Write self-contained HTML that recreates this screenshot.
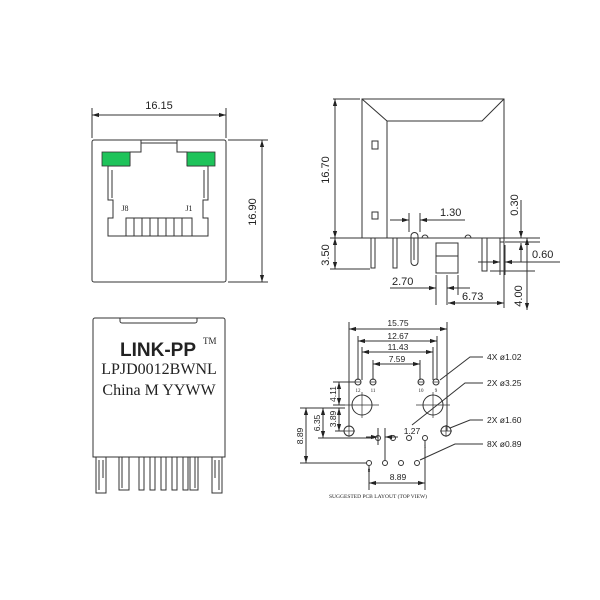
<!DOCTYPE html>
<html><head><meta charset="utf-8"><style>
html,body{margin:0;padding:0;background:#fff;}
svg{display:block;}
text{font-family:"Liberation Sans",sans-serif;fill:#222;}
.s{font-family:"Liberation Serif",serif;}
</style></head><body>
<svg width="600" height="600" viewBox="0 0 600 600" xmlns="http://www.w3.org/2000/svg">
<defs>
<marker id="a" viewBox="0 0 10 10" refX="10" refY="5" markerWidth="7" markerHeight="7" orient="auto-start-reverse"><path d="M0,2 L10,5 L0,8 z" fill="#222"/></marker>
</defs>
<g stroke="#333" stroke-width="1" fill="none">
<!-- top-left front view -->
<rect x="92" y="140" width="134" height="142" rx="2"/>
<line x1="92" y1="108" x2="92" y2="138"/><line x1="226" y1="108" x2="226" y2="138"/>
<line x1="92" y1="115" x2="226" y2="115" marker-start="url(#a)" marker-end="url(#a)"/>
<line x1="228" y1="140" x2="268" y2="140"/><line x1="228" y1="282" x2="268" y2="282"/>
<line x1="262" y1="140" x2="262" y2="282" marker-start="url(#a)" marker-end="url(#a)"/>
<path d="M141,140 V152 H130 V166 M177,140 V152 H187 V166"/>
<line x1="141" y1="143" x2="177" y2="143"/>
<path d="M130,166 H108 V200 H113 V218 H108 V236 H208 V218 H203 V200 H208 V166 H187"/>
<path d="M112,170 V198 M204,170 V198"/>
<path d="M126,236 V218 H192 V236"/>
<path d="M134,218 V236 M142,218 V236 M150,218 V236 M158,218 V236 M166,218 V236 M174,218 V236 M182,218 V236"/>
<!-- top-right side view -->
<path d="M362,238 V99 H504 V238"/>
<path d="M362,99 L387,121 H482 L504,99 M387,121 V238"/>
<rect x="372" y="141" width="6" height="8"/><rect x="372" y="212" width="6" height="7"/>
<line x1="330" y1="238" x2="540" y2="238"/>
<line x1="333" y1="99" x2="360" y2="99"/>
<line x1="335" y1="99" x2="335" y2="238" marker-start="url(#a)" marker-end="url(#a)"/>
<line x1="330" y1="269" x2="370" y2="269"/>
<line x1="335" y1="238" x2="335" y2="269" marker-start="url(#a)" marker-end="url(#a)"/>
<rect x="371" y="238" width="4" height="30"/><rect x="393" y="238" width="4" height="30"/>
<path d="M411,238 V236 a3.5,3.5 0 0 1 7,0 V262 a3.5,3.5 0 0 1 -7,0 Z"/>
<path d="M414,238 V260"/>
<rect x="436" y="243" width="22" height="30"/><line x1="436" y1="256" x2="458" y2="256"/>
<path d="M422,238 a3,3 0 0 1 6,0 M465,238 a3,3 0 0 1 6,0"/>
<rect x="482" y="238" width="5" height="33"/><rect x="500" y="238" width="4" height="4"/>
<line x1="409" y1="213" x2="409" y2="232"/><line x1="420" y1="213" x2="420" y2="232"/>
<line x1="390" y1="220" x2="409" y2="220" marker-end="url(#a)"/>
<line x1="465" y1="220" x2="420" y2="220" marker-end="url(#a)"/>
<line x1="521" y1="200" x2="521" y2="238" marker-end="url(#a)"/>
<line x1="521" y1="262" x2="521" y2="243" marker-end="url(#a)"/>
<line x1="505" y1="242" x2="540" y2="242"/>
<line x1="478" y1="262" x2="500" y2="262" marker-end="url(#a)"/>
<line x1="560" y1="262" x2="505" y2="262" marker-end="url(#a)"/>
<line x1="500" y1="240" x2="500" y2="275"/><line x1="505" y1="245" x2="505" y2="275"/>
<line x1="527" y1="238" x2="527" y2="310" marker-start="url(#a)" marker-end="url(#a)"/>
<line x1="490" y1="271" x2="535" y2="271"/>
<line x1="436" y1="275" x2="436" y2="305"/><line x1="447" y1="275" x2="447" y2="305"/><line x1="458" y1="275" x2="458" y2="295"/>
<line x1="390" y1="288" x2="436" y2="288" marker-end="url(#a)"/>
<line x1="470" y1="288" x2="447" y2="288" marker-end="url(#a)"/>
<line x1="504" y1="240" x2="504" y2="308"/>
<line x1="448" y1="303" x2="504" y2="303" marker-start="url(#a)" marker-end="url(#a)"/>
<!-- bottom-left top view -->
<path d="M93,457 V320 a2,2 0 0 1 2,-2 H223 a2,2 0 0 1 2,2 V457 Z"/>
<path d="M120,318 V321 a2,2 0 0 0 2,2 H195 a2,2 0 0 0 2,-2 V318"/>
<path d="M96,457 V493 H106 V457 M99,460 V490 M103,460 V478"/>
<path d="M212,457 V493 H222 V457 M219,460 V490 M215,460 V478"/>
<path d="M119,457 V490 H129 V457 M122,457 V488 M139,457 V490 H144 V457 M150,457 V490 H155 V457 M161,457 V490 H166 V457 M172,457 V490 H177 V457 M183,457 V490 H188 V457 M190,457 V490 H198 V457 M195,457 V488"/>
<!-- PCB layout -->
<line x1="349" y1="322" x2="349" y2="427"/><line x1="447" y1="322" x2="447" y2="431"/>
<line x1="349" y1="329" x2="447" y2="329" marker-start="url(#a)" marker-end="url(#a)"/>
<line x1="358" y1="336" x2="358" y2="380"/><line x1="437" y1="336" x2="437" y2="380"/>
<line x1="358" y1="341" x2="437" y2="341" marker-start="url(#a)" marker-end="url(#a)"/>
<line x1="362" y1="347" x2="362" y2="380"/><line x1="433" y1="347" x2="433" y2="380"/>
<line x1="362" y1="352" x2="433" y2="352" marker-start="url(#a)" marker-end="url(#a)"/>
<line x1="373" y1="360" x2="373" y2="380"/><line x1="420" y1="360" x2="420" y2="380"/>
<line x1="373" y1="364" x2="420" y2="364" marker-start="url(#a)" marker-end="url(#a)"/>
<g>
<circle cx="358" cy="382" r="3"/><circle cx="373" cy="382" r="3"/><circle cx="421" cy="382" r="3"/><circle cx="436" cy="382" r="3"/>
<circle cx="362" cy="405" r="10"/><circle cx="433" cy="405" r="10"/>
<circle cx="349" cy="431" r="5"/><circle cx="446" cy="431" r="5"/>
<circle cx="378" cy="438" r="2.5"/><circle cx="393" cy="438" r="2.5"/><circle cx="409" cy="438" r="2.5"/><circle cx="425" cy="438" r="2.5"/>
<circle cx="369" cy="463" r="2.5"/><circle cx="385" cy="463" r="2.5"/><circle cx="401" cy="463" r="2.5"/><circle cx="417" cy="463" r="2.5"/>
</g>
<path d="M355,382 H361 M370,382 H376 M418,382 H424 M433,382 H439 M345,405 H379 M416,405 H450 M362,392 V418 M433,392 V418 M343,431 H355 M349,425 V437 M440,431 H452 M446,425 V437" stroke-width="0.7"/>
<line x1="333" y1="382" x2="355" y2="382"/><line x1="333" y1="405" x2="345" y2="405"/>
<line x1="339" y1="382" x2="339" y2="405" marker-start="url(#a)" marker-end="url(#a)"/>
<line x1="339" y1="408" x2="339" y2="431" marker-start="url(#a)" marker-end="url(#a)"/>
<line x1="335" y1="431" x2="344" y2="431"/>
<line x1="300" y1="408" x2="345" y2="408"/>
<line x1="323" y1="408" x2="323" y2="438" marker-start="url(#a)" marker-end="url(#a)"/>
<line x1="318" y1="438" x2="374" y2="438"/>
<line x1="306" y1="408" x2="306" y2="463" marker-start="url(#a)" marker-end="url(#a)"/>
<line x1="300" y1="463" x2="366" y2="463"/>
<line x1="378" y1="428" x2="378" y2="445"/><line x1="385" y1="428" x2="385" y2="460"/>
<line x1="366" y1="437" x2="378" y2="437" marker-end="url(#a)"/>
<line x1="398" y1="437" x2="385" y2="437" marker-end="url(#a)"/>
<line x1="369" y1="466" x2="369" y2="490"/><line x1="425" y1="441" x2="425" y2="490"/>
<line x1="369" y1="483" x2="425" y2="483" marker-start="url(#a)" marker-end="url(#a)"/>
<!-- leaders -->
<path d="M483,357 H470 L440,380"/>
<path d="M483,383 H465 L412,425"/>
<path d="M483,420 H470 L450,428"/>
<path d="M483,444 H455 L420,460"/>
</g>
<rect x="102" y="152" width="28" height="14" fill="#1ec35a" stroke="#333" stroke-width="0.8"/>
<rect x="187" y="152" width="28" height="14" fill="#1ec35a" stroke="#333" stroke-width="0.8"/>
<g font-size="11">
<text x="159" y="109" text-anchor="middle">16.15</text>
<text transform="translate(256,212) rotate(-90)" text-anchor="middle">16.90</text>
<text transform="translate(329,170) rotate(-90)" text-anchor="middle">16.70</text>
<text transform="translate(329,255) rotate(-90)" text-anchor="middle">3.50</text>
<text x="440" y="216">1.30</text>
<text transform="translate(518,205) rotate(-90)" text-anchor="middle">0.30</text>
<text x="532" y="258">0.60</text>
<text transform="translate(522,296) rotate(-90)" text-anchor="middle">4.00</text>
<text x="392" y="285">2.70</text>
<text x="462" y="300">6.73</text>
</g>
<text class="s" x="125" y="211" font-size="8" text-anchor="middle">J8</text>
<text class="s" x="189" y="211" font-size="8" text-anchor="middle">J1</text>
<text x="158" y="356" font-size="19" font-weight="bold" text-anchor="middle">LINK-PP</text>
<text class="s" x="203" y="344" font-size="9">TM</text>
<text class="s" x="159" y="374" font-size="16" text-anchor="middle">LPJD0012BWNL</text>
<text class="s" x="159" y="395" font-size="16" text-anchor="middle">China M YYWW</text>
<g font-size="8.5">
<text x="398" y="326" text-anchor="middle">15.75</text>
<text x="398" y="339" text-anchor="middle">12.67</text>
<text x="398" y="350" text-anchor="middle">11.43</text>
<text x="397" y="362" text-anchor="middle">7.59</text>
<text x="412" y="434" text-anchor="middle">1.27</text>
<text x="398" y="480" text-anchor="middle">8.89</text>
<text transform="translate(336,394) rotate(-90)" text-anchor="middle">4.11</text>
<text transform="translate(336,419) rotate(-90)" text-anchor="middle">3.89</text>
<text transform="translate(320,423) rotate(-90)" text-anchor="middle">6.35</text>
<text transform="translate(303,436) rotate(-90)" text-anchor="middle">8.89</text>
<text x="487" y="360">4X  ø1.02</text>
<text x="487" y="386">2X  ø3.25</text>
<text x="487" y="423">2X  ø1.60</text>
<text x="487" y="447">8X  ø0.89</text>
</g>
<g class="s" font-size="5">
<text x="358" y="392" text-anchor="middle" class="s">12</text><text x="373" y="392" text-anchor="middle" class="s">11</text>
<text x="421" y="392" text-anchor="middle" class="s">10</text><text x="436" y="392" text-anchor="middle" class="s">9</text>
<text x="369" y="472" text-anchor="middle" class="s">8</text><text x="425" y="448" text-anchor="middle" class="s">1</text>
</g>
<text class="s" x="378" y="498" font-size="5.5" text-anchor="middle">SUGGESTED PCB LAYOUT (TOP VIEW)</text>
</svg>
</body></html>
